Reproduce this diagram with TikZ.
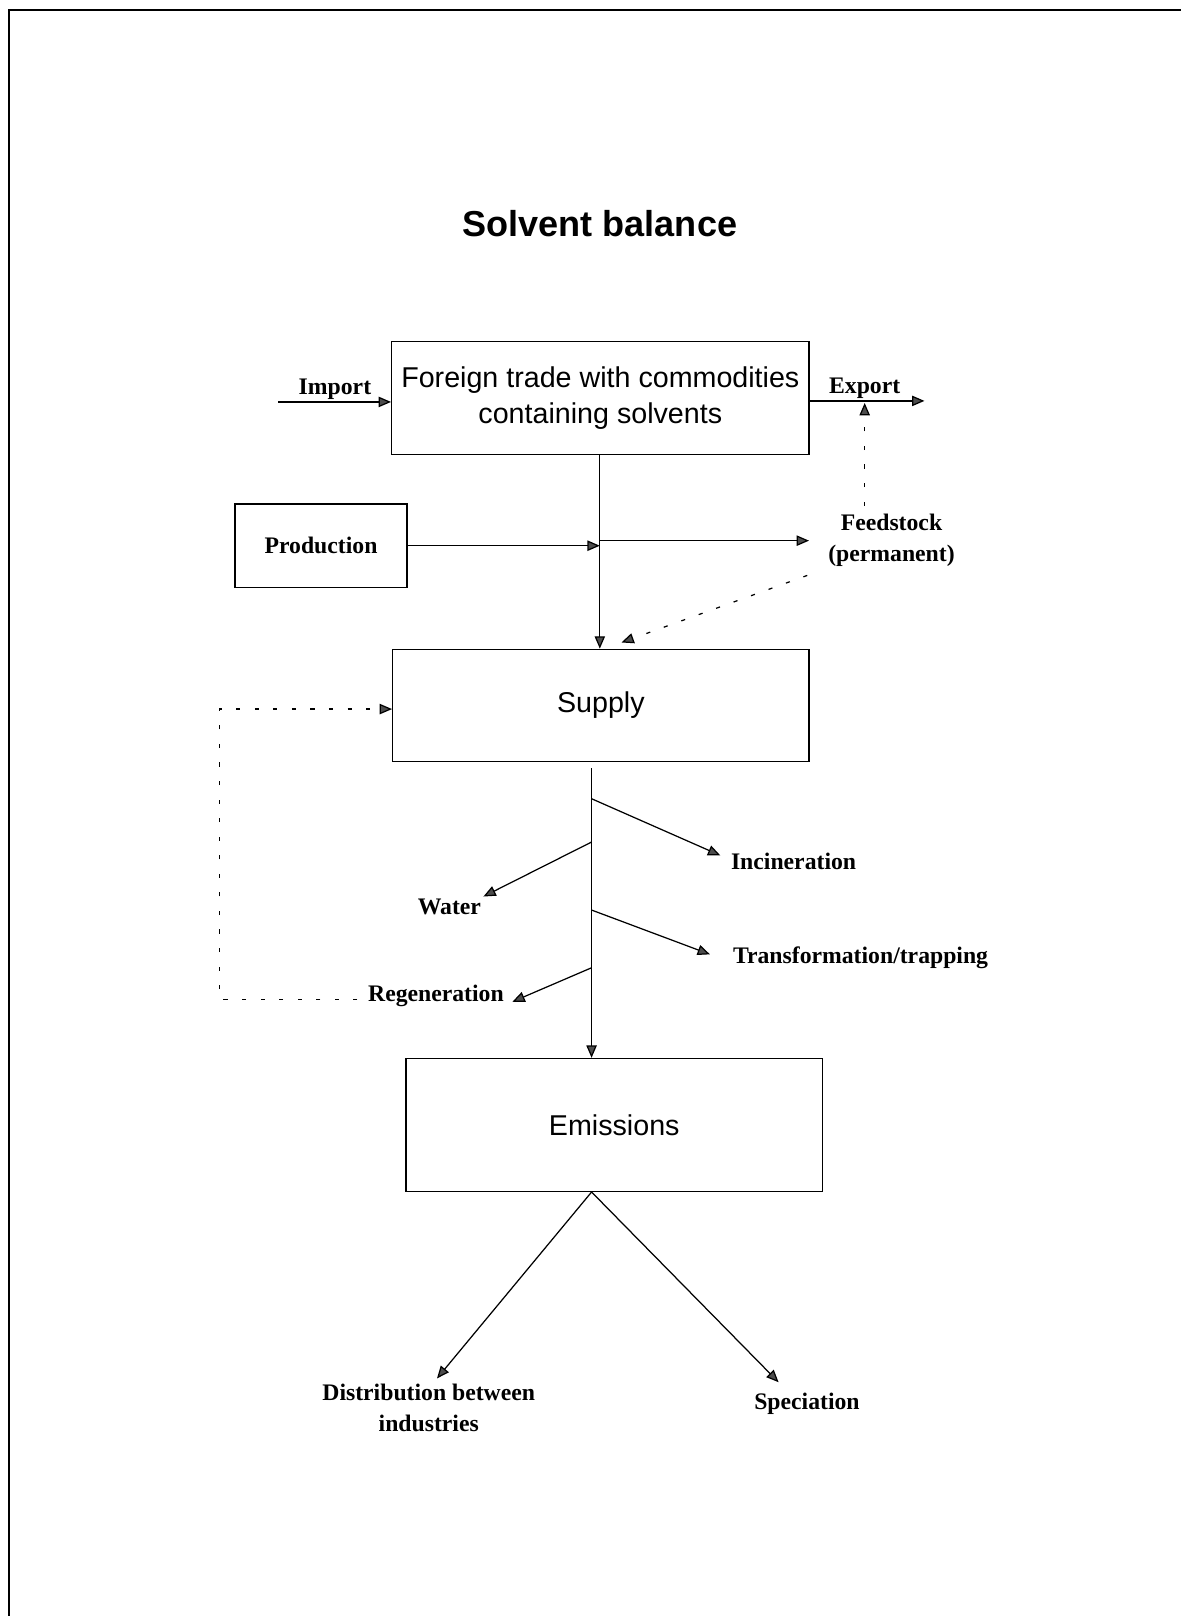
\documentclass[tikz,border=0pt]{standalone}
\usepackage{fontspec}
\setmainfont{Liberation Serif}
\setsansfont{Liberation Sans}
\usetikzlibrary{arrows.meta}
\begin{document}
\begin{tikzpicture}[x=0.5pt,y=-0.5pt,
  box/.style={draw, line width=0.6pt, inner sep=0pt, font=\sffamily\fontsize{13.9}{17.5}\selectfont, align=center},
  lbl/.style={font=\bfseries\fontsize{11.5}{15}\selectfont, align=center, inner sep=1pt},
  con/.style={line width=0.6pt, -{Triangle[length=6pt,width=5pt,fill=black!70]}},
  dotline/.style={dash pattern=on 2pt off 7pt},
]
\useasboundingbox (0,0) rectangle (1146,1568);
% frame
\draw[line width=1.1pt] (9,1568) -- (9,10) -- (1146,10);

% title
\node[font=\sffamily\bfseries\fontsize{17.5}{21}\selectfont] (title) at (582,217) {Solvent balance};

% boxes
\node[box, minimum width=202.5pt, minimum height=55pt] (trade) at (582.5,386) {Foreign trade with commodities\\containing solvents};
\node[box, minimum width=83.5pt, minimum height=40.5pt, font=\bfseries\fontsize{11.5}{15}\selectfont] (prod) at (311.5,529.5) {Production};
\node[box, minimum width=202pt, minimum height=54.5pt] (supply) at (583,684.5) {Supply};
\node[box, minimum width=202pt, minimum height=64.5pt] (emis) at (596,1091.5) {Emissions};

% labels
\node[lbl] (import) at (325,378) {Import};
\node[lbl] (export) at (839,377) {Export};
\node[lbl] (feed) at (865,524.5) {Feedstock\\(permanent)};
\node[lbl] (incin) at (770,836) {Incineration};
\node[lbl] (water) at (436,880) {Water};
\node[lbl] (trans) at (835,929) {Transformation/trapping};
\node[lbl] (regen) at (423,966) {Regeneration};
\node[lbl] (dist) at (416,1366) {Distribution between\\industries};
\node[lbl] (spec) at (783,1362) {Speciation};

% coordinates
\coordinate (impstart) at (270,390);
\coordinate (expend) at (897,389);
\coordinate (expjoin) at (839,391);
\coordinate (fj) at (582,524.6);
\coordinate (fe) at (785,524.6);
\coordinate (lp1) at (213,970);
\coordinate (lp2) at (213,688);
\coordinate (vx) at (574,0);
\coordinate (b1) at (574,775);
\coordinate (b2) at (574,817);
\coordinate (b3) at (574,883);
\coordinate (b4) at (574,939);

% import / export
\draw[con] (impstart) -- (impstart -| trade.west);
\draw[con] (trade.east |- expend) -- (expend);
\draw[con, dotline] ([yshift=3pt]expjoin |- feed.north) -- (expjoin);

% trade -> supply, production, feedstock
\draw[con] (trade.south -| fj) -- (supply.north -| fj);
\draw[con] (prod.east) -- (prod.east -| fj);
\draw[con] (fj) -- (fe);
\draw[con, dotline] ([xshift=-9pt,yshift=-3pt]feed.south west) -- ([xshift=10pt,yshift=3pt]supply.north);

% regeneration loop
\draw[con, dotline] ([xshift=-4pt]regen.west |- lp1) -- (lp1) -- (lp2) -- (lp2 -| supply.west);

% supply -> emissions with branches
\draw[con] ([yshift=-3pt]supply.south -| vx) -- (emis.north -| vx);
\draw[con] (b1) -- ([xshift=-4pt,yshift=3pt]incin.west);
\draw[con] (b2) -- (water.north east);
\draw[con] (b3) -- ([xshift=-10pt,yshift=1.5pt]trans.west);
\draw[con] (b4) -- ([xshift=3pt,yshift=-3pt]regen.east);

% emissions branches
\draw[con] (emis.south -| vx) -- ([xshift=4pt,yshift=1.5pt]dist.north);
\draw[con] (emis.south -| vx) -- ([xshift=13pt,yshift=4pt]spec.north west);
\end{tikzpicture}
\end{document}
